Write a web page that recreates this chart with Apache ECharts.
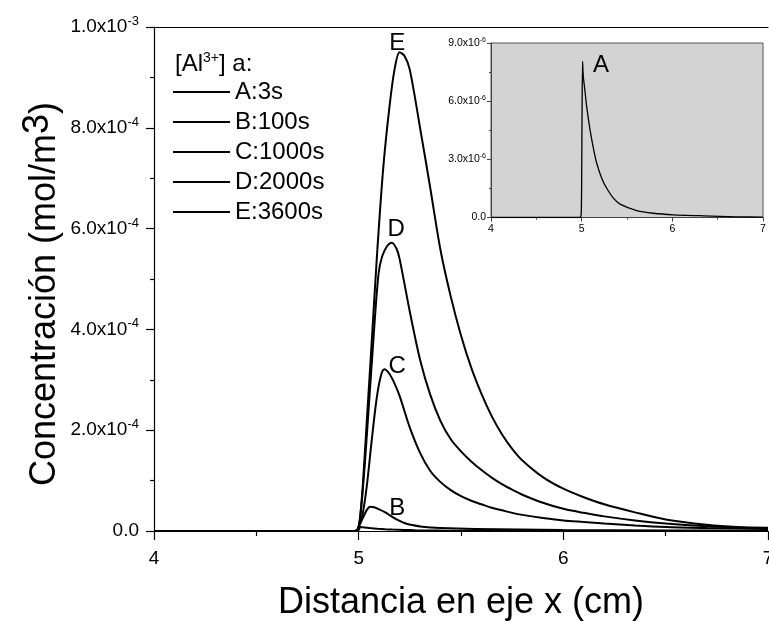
<!DOCTYPE html>
<html><head><meta charset="utf-8">
<script src="https://cdn.jsdelivr.net/npm/echarts@6/dist/echarts.min.js"></script>
<style>html,body{margin:0;padding:0;background:#fff}#c{width:769px;height:621px}</style>
</head><body><div id="c"></div>
<script>
// ---------- data ----------
const legendNames = ['A:3s', 'B:100s', 'C:1000s', 'D:2000s', 'E:3600s'];
const curveLetters = ['A', 'B', 'C', 'D', 'E'];

// A : 3 s
const xA = [4, 4.98, 4.995, 5.0, 5.005, 5.01, 5.018, 5.037, 5.055, 5.092, 5.129, 5.166, 5.221, 5.276, 5.35, 5.423, 5.607, 5.79, 6.01, 6.34, 6.71, 7.0];
const yA = [0, 0, 0.2e-6, 2.0e-6, 6.0e-6, 8.05e-6, 7.28e-6, 6.5e-6, 5.73e-6, 4.53e-6, 3.58e-6, 2.8e-6, 2.03e-6, 1.51e-6, 1.0e-6, 0.69e-6, 0.36e-6, 0.22e-6, 0.14e-6, 0.086e-6, 0.034e-6, 0.02e-6];
// B : 100 s
const xB = [4, 4.98, 4.995, 5.005, 5.023, 5.04, 5.056, 5.075, 5.10, 5.13, 5.16, 5.195, 5.23, 5.26, 5.31, 5.4, 5.57, 6.0, 6.5, 7.0];
const yB = [0, 0, 0.003e-3, 0.012e-3, 0.028e-3, 0.042e-3, 0.048e-3, 0.047e-3, 0.043e-3, 0.037e-3, 0.029e-3, 0.021e-3, 0.015e-3, 0.012e-3, 0.0085e-3, 0.006e-3, 0.004e-3, 0.002e-3, 0.001e-3, 0.0005e-3];
// C : 1000 s
const xC = [4, 4.98, 4.995, 5.005, 5.02, 5.04, 5.064, 5.089, 5.11, 5.126, 5.15, 5.175, 5.2, 5.25, 5.3, 5.35, 5.4, 5.45, 5.5, 5.55, 5.6, 5.65, 5.7, 5.75, 5.8, 5.9, 6.0, 6.1, 6.2, 6.35, 6.5, 6.7, 6.85, 7.0];
const yC = [0, 0, 0.003e-3, 0.015e-3, 0.035e-3, 0.09e-3, 0.181e-3, 0.266e-3, 0.31e-3, 0.321e-3, 0.312e-3, 0.293e-3, 0.268e-3, 0.205e-3, 0.155e-3, 0.119e-3, 0.097e-3, 0.081e-3, 0.069e-3, 0.060e-3, 0.053e-3, 0.046e-3, 0.041e-3, 0.036e-3, 0.032e-3, 0.026e-3, 0.021e-3, 0.018e-3, 0.015e-3, 0.011e-3, 0.008e-3, 0.006e-3, 0.005e-3, 0.004e-3];
// D : 2000 s
const xD = [4, 4.98, 4.995, 5.005, 5.02, 5.04, 5.072, 5.097, 5.115, 5.14, 5.162, 5.185, 5.2, 5.25, 5.3, 5.35, 5.4, 5.45, 5.5, 5.55, 5.6, 5.65, 5.7, 5.75, 5.8, 5.9, 6.0, 6.1, 6.2, 6.35, 6.5, 6.7, 6.85, 7.0];
const yD = [0, 0, 0.003e-3, 0.02e-3, 0.08e-3, 0.19e-3, 0.38e-3, 0.51e-3, 0.545e-3, 0.566e-3, 0.572e-3, 0.56e-3, 0.54e-3, 0.435e-3, 0.34e-3, 0.27e-3, 0.218e-3, 0.182e-3, 0.158e-3, 0.138e-3, 0.121e-3, 0.106e-3, 0.093e-3, 0.082e-3, 0.072e-3, 0.056e-3, 0.044e-3, 0.036e-3, 0.029e-3, 0.021e-3, 0.015e-3, 0.0095e-3, 0.007e-3, 0.005e-3];
// E : 3600 s
const xE = [4, 4.98, 4.995, 5.005, 5.02, 5.04, 5.06, 5.09, 5.12, 5.15, 5.175, 5.2, 5.225, 5.25, 5.3, 5.35, 5.4, 5.45, 5.5, 5.55, 5.6, 5.65, 5.7, 5.75, 5.8, 5.9, 6.0, 6.1, 6.2, 6.35, 6.5, 6.7, 6.85, 7.0];
const yE = [0, 0, 0.003e-3, 0.02e-3, 0.09e-3, 0.22e-3, 0.35e-3, 0.55e-3, 0.72e-3, 0.84e-3, 0.915e-3, 0.950e-3, 0.942e-3, 0.915e-3, 0.80e-3, 0.68e-3, 0.557e-3, 0.465e-3, 0.388e-3, 0.324e-3, 0.272e-3, 0.228e-3, 0.192e-3, 0.163e-3, 0.140e-3, 0.107e-3, 0.084e-3, 0.067e-3, 0.053e-3, 0.037e-3, 0.023e-3, 0.0125e-3, 0.008e-3, 0.0065e-3];

// curve-letter anchors (data coordinates)
const letterAnchorsMain = { B: [5.188, 0.044e-3], C: [5.188, 0.327e-3], D: [5.183, 0.599e-3], E: [5.188, 0.968e-3] };
const letterAnchorInset = [5.214, 7.83e-6];

// axis ranges / ticks
const xMin = 4, xMax = 7, xStep = 1;
const yMainMax = 1.0e-3, yMainStep = 2.0e-4;
const yInsetMax = 9.0e-6, yInsetStep = 3.0e-6;

// ---------- chart ----------
const FONT = 'Liberation Sans, Arial, sans-serif';
const xsArr = [xA, xB, xC, xD, xE];
const ysArr = [yA, yB, yC, yD, yE];
const pairs = (xs, ys) => xs.map((x, i) => [x, ys[i]]);

function sci(v) {
  if (Math.abs(v) < 1e-15) return '{m|0.0}';
  const e = Math.floor(Math.log10(v) + 1e-9);
  const m = v / Math.pow(10, e);
  return '{m|' + m.toFixed(1) + 'x10}{s|' + e + '}';
}

const mainSeries = curveLetters.map((L, i) => {
  const s = {
    name: legendNames[i], type: 'line', xAxisIndex: 0, yAxisIndex: 0,
    data: pairs(xsArr[i], ysArr[i]), showSymbol: false, symbol: 'none',
    smooth: 0.3,
    lineStyle: { color: '#000', width: 2 }, itemStyle: { color: '#000' }, z: 3
  };
  if (letterAnchorsMain[L]) {
    s.markPoint = {
      symbol: 'circle', symbolSize: 1, itemStyle: { color: 'rgba(0,0,0,0)' },
      data: [{ coord: letterAnchorsMain[L], value: L }],
      label: { show: true, position: 'inside', formatter: L, color: '#000', fontSize: 24, fontFamily: FONT }
    };
  }
  return s;
});

const insetSeries = {
  name: 'A inset', type: 'line', xAxisIndex: 1, yAxisIndex: 1,
  data: pairs(xA, yA), showSymbol: false, symbol: 'none', smooth: 0.2,
  lineStyle: { color: '#000', width: 1.3 }, z: 10,
  markPoint: {
    symbol: 'circle', symbolSize: 1, itemStyle: { color: 'rgba(0,0,0,0)' }, z: 12,
    data: [{ coord: letterAnchorInset, value: 'A' }],
    label: { show: true, position: 'inside', formatter: 'A', color: '#000', fontSize: 24, fontFamily: FONT }
  }
};

const chart = echarts.init(document.getElementById('c'), null, { renderer: 'canvas' });
chart.setOption({
  animation: false,
  backgroundColor: '#fff',
  title: {
    text: '{n|[Al}{s|3+}{n|] a:}', left: 170, top: 46,
    textStyle: { fontWeight: 'normal', rich: {
      n: { fontSize: 24, fontFamily: FONT, color: '#000', fontWeight: 'normal' },
      s: { fontSize: 14, fontFamily: FONT, color: '#000', fontWeight: 'normal', padding: [0, 0, 13, 0] }
    } }
  },
  legend: {
    data: legendNames, orient: 'vertical', left: 168, top: 75,
    icon: 'rect', itemWidth: 57, itemHeight: 2, itemGap: 6,
    textStyle: { fontSize: 24, lineHeight: 24, color: '#000', fontFamily: FONT },
    selectedMode: false
  },
  grid: [
    { left: 154, right: 1, top: 27, bottom: 90, show: false, outerBoundsMode: 'none', containLabel: false },
    { left: 491, top: 43, width: 272, height: 174.5, show: true, backgroundColor: '#d3d3d3', borderColor: '#555', borderWidth: 1, outerBoundsMode: 'none', containLabel: false }
  ],
  xAxis: [
    {
      type: 'value', gridIndex: 0, min: xMin, max: xMax, interval: xStep,
      name: 'Distancia en eje x (cm)', nameLocation: 'middle', nameGap: 54, nameMoveOverlap: false,
      nameTextStyle: { fontSize: 36, color: '#000', fontFamily: FONT },
      axisLine: { show: true, lineStyle: { color: '#000', width: 1.2 } },
      axisTick: { show: true, inside: false, length: 9, lineStyle: { color: '#000', width: 1.2 } },
      minorTick: { show: true, splitNumber: 2, length: 5, lineStyle: { color: '#000', width: 1.2 } },
      splitLine: { show: false },
      axisLabel: { fontSize: 19, color: '#000', margin: 18, fontFamily: FONT, formatter: v => String(v) }
    },
    {
      type: 'value', gridIndex: 1, min: xMin, max: xMax, interval: xStep,
      axisLine: { show: true, lineStyle: { color: '#444', width: 1 } },
      axisTick: { show: true, length: 4, lineStyle: { color: '#444' } },
      minorTick: { show: true, splitNumber: 2, length: 2, lineStyle: { color: '#444' } },
      splitLine: { show: false },
      axisLabel: { fontSize: 10.5, color: '#000', margin: 6, fontFamily: FONT, formatter: v => String(v) }
    },
    {
      type: 'value', gridIndex: 0, min: xMin, max: xMax, position: 'top',
      axisLine: { show: true, lineStyle: { color: '#000', width: 1.2 } },
      axisTick: { show: false }, axisLabel: { show: false }, splitLine: { show: false }
    }
  ],
  yAxis: [
    {
      type: 'value', gridIndex: 0, min: 0, max: yMainMax, interval: yMainStep,
      name: 'Concentración (mol/m{s|3})', nameLocation: 'middle', nameGap: 84, nameRotate: 90, nameMoveOverlap: false,
      nameTextStyle: { fontSize: 36, color: '#000', fontFamily: FONT, padding: [0, 30, 0, 0],
        rich: { s: { fontSize: 36, fontFamily: FONT, color: '#000', padding: [0, 0, 14, 0] } } },
      axisLine: { show: true, lineStyle: { color: '#000', width: 1.2 } },
      axisTick: { show: true, length: 8, lineStyle: { color: '#000', width: 1.2 } },
      minorTick: { show: true, splitNumber: 2, length: 4, lineStyle: { color: '#000', width: 1.2 } },
      splitLine: { show: false },
      axisLabel: {
        margin: 15, color: '#000', formatter: sci,
        rich: {
          m: { fontSize: 19, fontFamily: FONT, color: '#000' },
          s: { fontSize: 13, fontFamily: FONT, color: '#000', padding: [0, 0, 11, 0] }
        }
      }
    },
    {
      type: 'value', gridIndex: 1, min: 0, max: yInsetMax, interval: yInsetStep,
      axisLine: { show: true, lineStyle: { color: '#444', width: 1 } },
      axisTick: { show: true, length: 4, lineStyle: { color: '#444' } },
      minorTick: { show: true, splitNumber: 2, length: 2, lineStyle: { color: '#444' } },
      splitLine: { show: false },
      axisLabel: {
        margin: 5, color: '#000', formatter: sci,
        rich: {
          m: { fontSize: 10.5, fontFamily: FONT, color: '#000' },
          s: { fontSize: 7, fontFamily: FONT, color: '#000', padding: [0, 0, 6, 0] }
        }
      }
    }
  ],
  series: mainSeries.concat([insetSeries])
});
</script></body></html>
